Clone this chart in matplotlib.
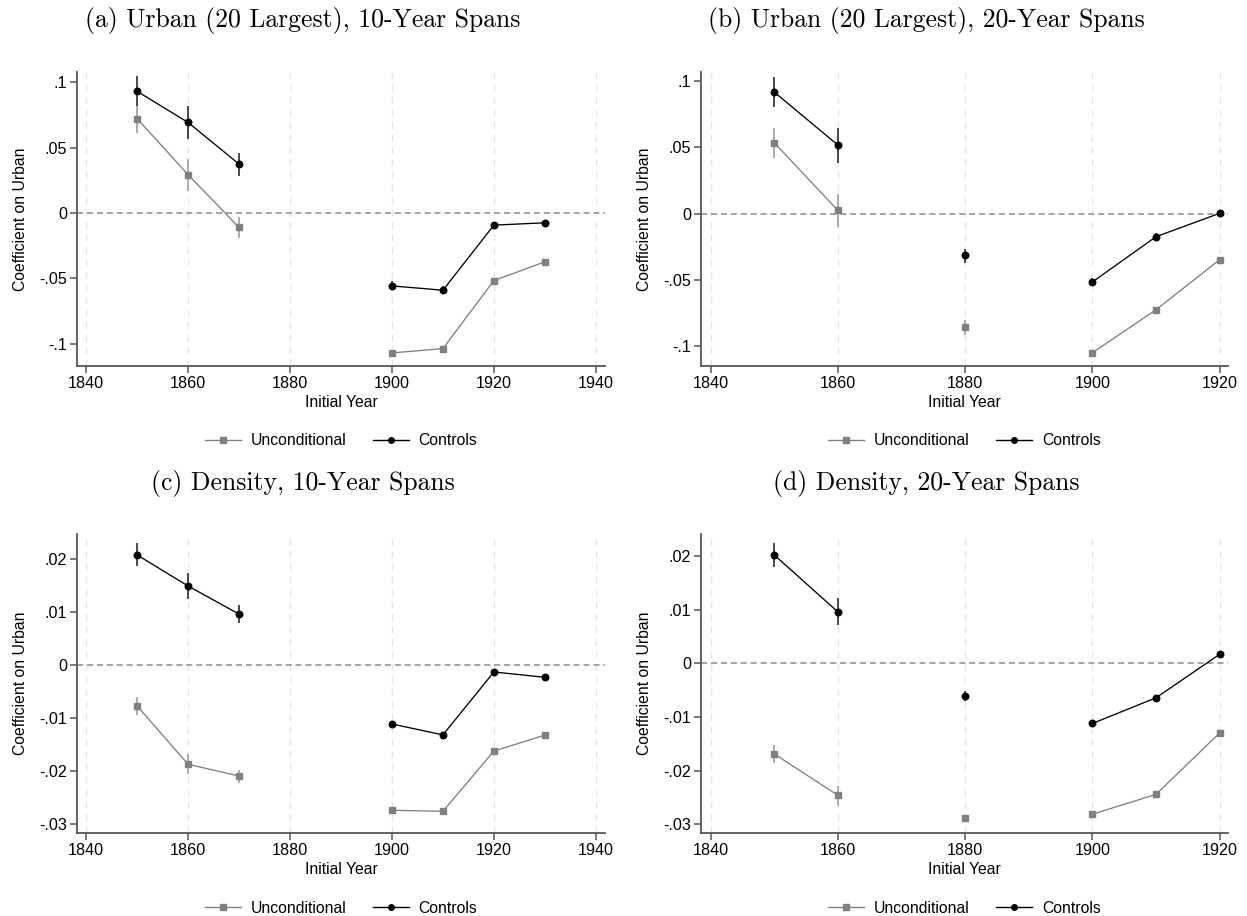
import numpy as np
import matplotlib
matplotlib.use("Agg")
import matplotlib.pyplot as plt
from matplotlib.lines import Line2D
from matplotlib.ticker import FuncFormatter

plt.rcParams['font.family'] = ['Liberation Sans', 'DejaVu Sans']

nan = np.nan

# 10-year spans: no estimates for 1880 and 1890
years_10 = [1850, 1860, 1870, 1880, 1890, 1900, 1910, 1920, 1930]
# 20-year spans: no estimates for 1870 and 1890
years_20 = [1850, 1860, 1870, 1880, 1890, 1900, 1910, 1920]

# (a) Urban (20 largest), 10-year spans
urb10_ctrl    = [0.0932, 0.0694, 0.0375, nan, nan, -0.0557, -0.0590, -0.0092, -0.0074]
urb10_ctrl_lo = [0.0820, 0.0570, 0.0286, nan, nan, -0.0592, -0.0620, -0.0112, -0.0094]
urb10_ctrl_hi = [0.1050, 0.0820, 0.0460, nan, nan, -0.0522, -0.0560, -0.0072, -0.0054]
urb10_unc     = [0.0723, 0.0294, -0.0110, nan, nan, -0.1070, -0.1037, -0.0516, -0.0373]
urb10_unc_lo  = [0.0613, 0.0171, -0.0192, nan, nan, -0.1090, -0.1057, -0.0536, -0.0393]
urb10_unc_hi  = [0.0817, 0.0414, -0.0026, nan, nan, -0.1050, -0.1017, -0.0496, -0.0353]

# (b) Urban (20 largest), 20-year spans
urb20_ctrl    = [0.0916, 0.0517, nan, -0.0313, nan, -0.0514, -0.0173, 0.0003]
urb20_ctrl_lo = [0.0800, 0.0384, nan, -0.0369, nan, -0.0544, -0.0203, -0.0017]
urb20_ctrl_hi = [0.1030, 0.0645, nan, -0.0264, nan, -0.0484, -0.0143, 0.0023]
urb20_unc     = [0.0535, 0.0025, nan, -0.0851, nan, -0.1047, -0.0723, -0.0346]
urb20_unc_lo  = [0.0422, -0.0098, nan, -0.0910, nan, -0.1067, -0.0743, -0.0366]
urb20_unc_hi  = [0.0648, 0.0148, nan, -0.0800, nan, -0.1027, -0.0703, -0.0326]

# (c) Density, 10-year spans
den10_ctrl    = [0.02075, 0.0149, 0.0096, nan, nan, -0.0111, -0.01315, -0.0013, -0.0023]
den10_ctrl_lo = [0.0186, 0.0124, 0.0079, nan, nan, -0.0117, -0.0137, -0.0017, -0.0027]
den10_ctrl_hi = [0.0230, 0.0174, 0.0113, nan, nan, -0.0105, -0.0126, -0.0009, -0.0019]
den10_unc     = [-0.0077, -0.0187, -0.0209, nan, nan, -0.02736, -0.02755, -0.0162, -0.0132]
den10_unc_lo  = [-0.0094, -0.0206, -0.0223, nan, nan, -0.0278, -0.0280, -0.0166, -0.0136]
den10_unc_hi  = [-0.0061, -0.0168, -0.0197, nan, nan, -0.0270, -0.0271, -0.0158, -0.0128]

# (d) Density, 20-year spans
den20_ctrl    = [0.0202, 0.0096, nan, -0.0061, nan, -0.0112, -0.0064, 0.0017]
den20_ctrl_lo = [0.0179, 0.0071, nan, -0.0070, nan, -0.0117, -0.0069, 0.0013]
den20_ctrl_hi = [0.0224, 0.0121, nan, -0.0052, nan, -0.0107, -0.0059, 0.0021]
den20_unc     = [-0.01686, -0.02457, nan, -0.0288, nan, -0.0281, -0.0244, -0.01295]
den20_unc_lo  = [-0.0185, -0.0265, nan, -0.0294, nan, -0.0285, -0.0248, -0.0134]
den20_unc_hi  = [-0.0152, -0.0228, nan, -0.0282, nan, -0.0277, -0.0240, -0.0125]

titles = ["(a) Urban (20 Largest), 10-Year Spans",
          "(b) Urban (20 Largest), 20-Year Spans",
          "(c) Density, 10-Year Spans",
          "(d) Density, 20-Year Spans"]

urban_ticks = [-0.1, -0.05, 0, 0.05, 0.1]
density_ticks = [-0.03, -0.02, -0.01, 0, 0.01, 0.02]
xticks_10 = [1840, 1860, 1880, 1900, 1920, 1940]
xticks_20 = [1840, 1860, 1880, 1900, 1920]

GRAY = "#808080"
CI_GRAY = "#a6a6a6"
CI_DARK = "#3a3a3a"
SPINE = "#555555"
FS = 11.3


def stata_fmt(v, pos):
    # Stata-style labels: .05, -.1, 0
    if abs(v) < 1e-12:
        return "0"
    s = f"{v:g}"
    return s.replace("0.", ".")


def coef_panel(ax, years, ctrl, ctrl_lo, ctrl_hi, unc, unc_lo, unc_hi,
               xlim, ylim, xticks, yticks):
    years = np.array(years)
    for xt in xticks:
        ax.axvline(xt, color="#e6e6e6", lw=1.0, ls=(0, (5, 4)), zorder=0)
    ax.axhline(0, color="#8c8c8c", lw=1.1, ls=(0, (4, 2.5)), zorder=1)

    ax.vlines(years, unc_lo, unc_hi, color=CI_GRAY, lw=1.3, zorder=2)
    ax.plot(years, unc, color=GRAY, lw=0.95, marker="s", ms=4.2,
            mec=GRAY, mfc=GRAY, zorder=3)
    ax.vlines(years, ctrl_lo, ctrl_hi, color=CI_DARK, lw=1.3, zorder=4)
    ax.plot(years, ctrl, color="black", lw=0.95, marker="o", ms=4.7,
            mec="black", mfc="black", zorder=5)

    ax.set_xlim(*xlim)
    ax.set_ylim(*ylim)
    ax.set_xticks(xticks)
    ax.set_yticks(yticks)
    ax.yaxis.set_major_formatter(FuncFormatter(stata_fmt))
    for side in ("top", "right"):
        ax.spines[side].set_visible(False)
    for side in ("left", "bottom"):
        ax.spines[side].set_color(SPINE)
        ax.spines[side].set_linewidth(1.3)
    ax.tick_params(axis="both", direction="out", length=5, width=1.1,
                   color=SPINE, labelsize=11.6, pad=2)
    ax.set_xlabel("Initial Year", fontsize=FS, labelpad=3)
    ax.set_ylabel("Coefficient on Urban", fontsize=FS, labelpad=8)

    handles = [
        Line2D([], [], color=GRAY, lw=1.0, marker="s", ms=4.0, mfc=GRAY, mec=GRAY),
        Line2D([], [], color="black", lw=1.0, marker="o", ms=4.0),
    ]
    ax.legend(handles, ["Unconditional", "Controls"], ncol=2, frameon=False,
              loc="upper center", bbox_to_anchor=(0.5, -0.18),
              fontsize=FS, handlelength=2.3, columnspacing=1.7,
              handletextpad=0.6)


fig = plt.figure(figsize=(12.47, 9.16), dpi=100)

W, H = 1247, 916
def box(l, r, t, b):
    return [l / W, 1 - b / H, (r - l) / W, (b - t) / H]

ax_a = fig.add_axes(box(77, 605, 72, 366))
ax_b = fig.add_axes(box(701, 1228, 72, 366))
ax_c = fig.add_axes(box(77, 605, 534, 833))
ax_d = fig.add_axes(box(701, 1228, 534, 833))

coef_panel(ax_a, years_10, urb10_ctrl, urb10_ctrl_lo, urb10_ctrl_hi,
           urb10_unc, urb10_unc_lo, urb10_unc_hi,
           (1838.2, 1941.8), (-0.117, 0.108), xticks_10, urban_ticks)
coef_panel(ax_b, years_20, urb20_ctrl, urb20_ctrl_lo, urb20_ctrl_hi,
           urb20_unc, urb20_unc_lo, urb20_unc_hi,
           (1838.5, 1921.3), (-0.1147, 0.1067), xticks_20, urban_ticks)
coef_panel(ax_c, years_10, den10_ctrl, den10_ctrl_lo, den10_ctrl_hi,
           den10_unc, den10_unc_lo, den10_unc_hi,
           (1838.2, 1941.8), (-0.03164, 0.0247), xticks_10, density_ticks)
coef_panel(ax_d, years_20, den20_ctrl, den20_ctrl_lo, den20_ctrl_hi,
           den20_unc, den20_unc_lo, den20_unc_hi,
           (1838.5, 1921.3), (-0.0316, 0.0241), xticks_20, density_ticks)

# subfigure captions in a Computer Modern face
for (x, y), t in zip([(303, 20), (926, 20), (303, 483), (926, 483)], titles):
    fig.text(x / W, 1 - y / H, t, ha="center", va="center",
             fontsize=18.5, family="cmr10")

fig.savefig("out.png", dpi=100)
